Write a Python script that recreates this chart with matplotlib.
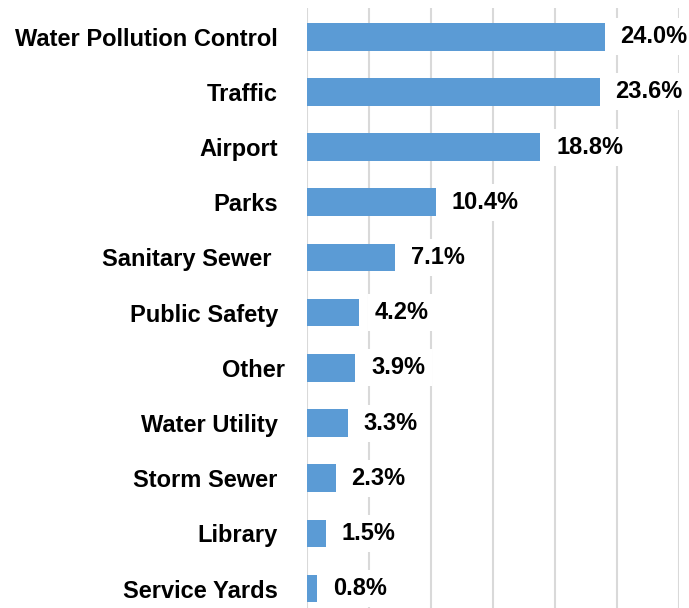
import matplotlib
matplotlib.use('Agg')
import matplotlib.pyplot as plt
from matplotlib.transforms import ScaledTranslation

# Данные
categories = ['Water Pollution Control', 'Traffic', 'Airport', 'Parks', 'Sanitary Sewer ',
              'Public Safety', 'Other', 'Water Utility', 'Storm Sewer', 'Library', 'Service Yards']
shares = [24.0, 23.6, 18.8, 10.4, 7.1, 4.2, 3.9, 3.3, 2.3, 1.5, 0.8]
value_labels = ['24.0%', '23.6%', '18.8%', '10.4%', '7.1%', '4.2%', '3.9%', '3.3%', '2.3%', '1.5%', '0.8%']

plt.rcParams['font.family'] = ['Liberation Sans', 'DejaVu Sans']
plt.rcParams['font.weight'] = 'bold'

fig = plt.figure(figsize=(6.89, 6.08), dpi=100)
ax = fig.add_axes([307 / 689, 0.0, 372 / 689, 1 - 8 / 608])

pos = list(range(len(categories)))
ax.barh(pos, shares, height=0.5, color='#5B9BD5', zorder=3)

for p, v, lab in zip(pos, shares, value_labels):
    ax.annotate(lab, (v, p), xytext=(11.5, 0), textcoords='offset points',
                ha='left', va='center', fontsize=17, fontweight='bold', zorder=4,
                bbox=dict(boxstyle='square,pad=0.3', facecolor='white', edgecolor='none'),
                annotation_clip=False)

ax.set_xlim(0, 30)
ax.set_xticks(range(0, 31, 5))
ax.set_ylim(10.35, -0.52)
ax.set_yticks(pos)
ax.set_yticklabels(categories, fontsize=17, fontweight='bold')
ax.tick_params(axis='y', length=0, pad=21)
ax.tick_params(axis='x', length=0, labelbottom=False)
ax.grid(True, axis='x', color='#D9D9D9', linewidth=1.5, zorder=0)
ax.set_axisbelow(True)
for s in ax.spines.values():
    s.set_visible(False)

# "Other" в оригинале чуть правее
lbl = ax.get_yticklabels()[6]
lbl.set_transform(lbl.get_transform() + ScaledTranslation(7 / 100, 0, fig.dpi_scale_trans))

fig.savefig('out.png', dpi=100)
